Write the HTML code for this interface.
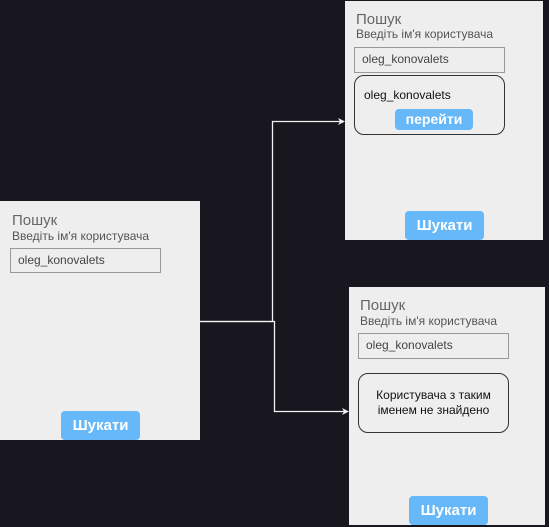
<!DOCTYPE html>
<html><head><meta charset="utf-8"><style>
*{margin:0;padding:0;box-sizing:border-box}
body{width:549px;height:527px;background:#18161e;position:relative;overflow:hidden;font-family:"Liberation Sans",Arial,sans-serif}
.p{position:absolute;background:#eeeeee}
.a{position:absolute}
.t1{font-size:15px;color:#666}
.t2{font-size:12px;color:#555}
.in{border:1px solid #999;font-size:12px;color:#444;padding-left:7px;line-height:23px}
.btn{background:#66b8f8;color:#fff;font-weight:bold;font-size:15px;text-align:center;border-radius:4px;line-height:29px}
.box{border:1px solid #333;border-radius:10px}
</style></head><body>
<svg class="a" style="left:0;top:0" width="549" height="527">
<g stroke="#f2f2f2" stroke-width="1.3" fill="none">
<polyline points="200,321.5 272.5,321.5 272.5,121.5 340,121.5"/>
<polyline points="200,321.5 274.5,321.5 274.5,411.5 344,411.5"/>
</g>
<polygon points="345,121.5 338,118 340,121.5 338,125" fill="#f2f2f2"/>
<polygon points="349,411.5 342,408 344,411.5 342,415" fill="#f2f2f2"/>
</svg>

<div class="p" style="left:0;top:201px;width:200px;height:239px"></div>
<div class="a t1" style="left:12px;top:212px">Пошук</div>
<div class="a t2" style="left:12px;top:229px">Введіть ім'я користувача</div>
<div class="a in" style="left:10px;top:248px;width:151px;height:25px">oleg_konovalets</div>
<div class="a btn" style="left:61px;top:411px;width:79px;height:29px">Шукати</div>

<div class="p" style="left:345px;top:1px;width:198px;height:239px"></div>
<div class="a t1" style="left:356px;top:11px">Пошук</div>
<div class="a t2" style="left:356px;top:27px">Введіть ім'я користувача</div>
<div class="a in" style="left:354px;top:47px;width:151px;height:26px">oleg_konovalets</div>
<div class="a box" style="left:354px;top:75px;width:151px;height:60px"></div>
<div class="a" style="left:364px;top:88px;font-size:12px;color:#111">oleg_konovalets</div>
<div class="a btn" style="left:395px;top:109px;width:78px;height:21px;line-height:21px;font-size:14px">перейти</div>
<div class="a btn" style="left:405px;top:211px;width:79px;height:29px">Шукати</div>

<div class="p" style="left:349px;top:287px;width:196px;height:238px"></div>
<div class="a t1" style="left:360px;top:297px">Пошук</div>
<div class="a t2" style="left:360px;top:314px">Введіть ім'я користувача</div>
<div class="a in" style="left:358px;top:333px;width:151px;height:26px">oleg_konovalets</div>
<div class="a box" style="left:358px;top:373px;width:151px;height:60px"></div>
<div class="a" style="left:358px;top:388px;width:151px;text-align:center;font-size:12px;color:#111;line-height:15px">Користувача з таким<br>іменем не знайдено</div>
<div class="a btn" style="left:409px;top:496px;width:79px;height:29px">Шукати</div>
</body></html>
